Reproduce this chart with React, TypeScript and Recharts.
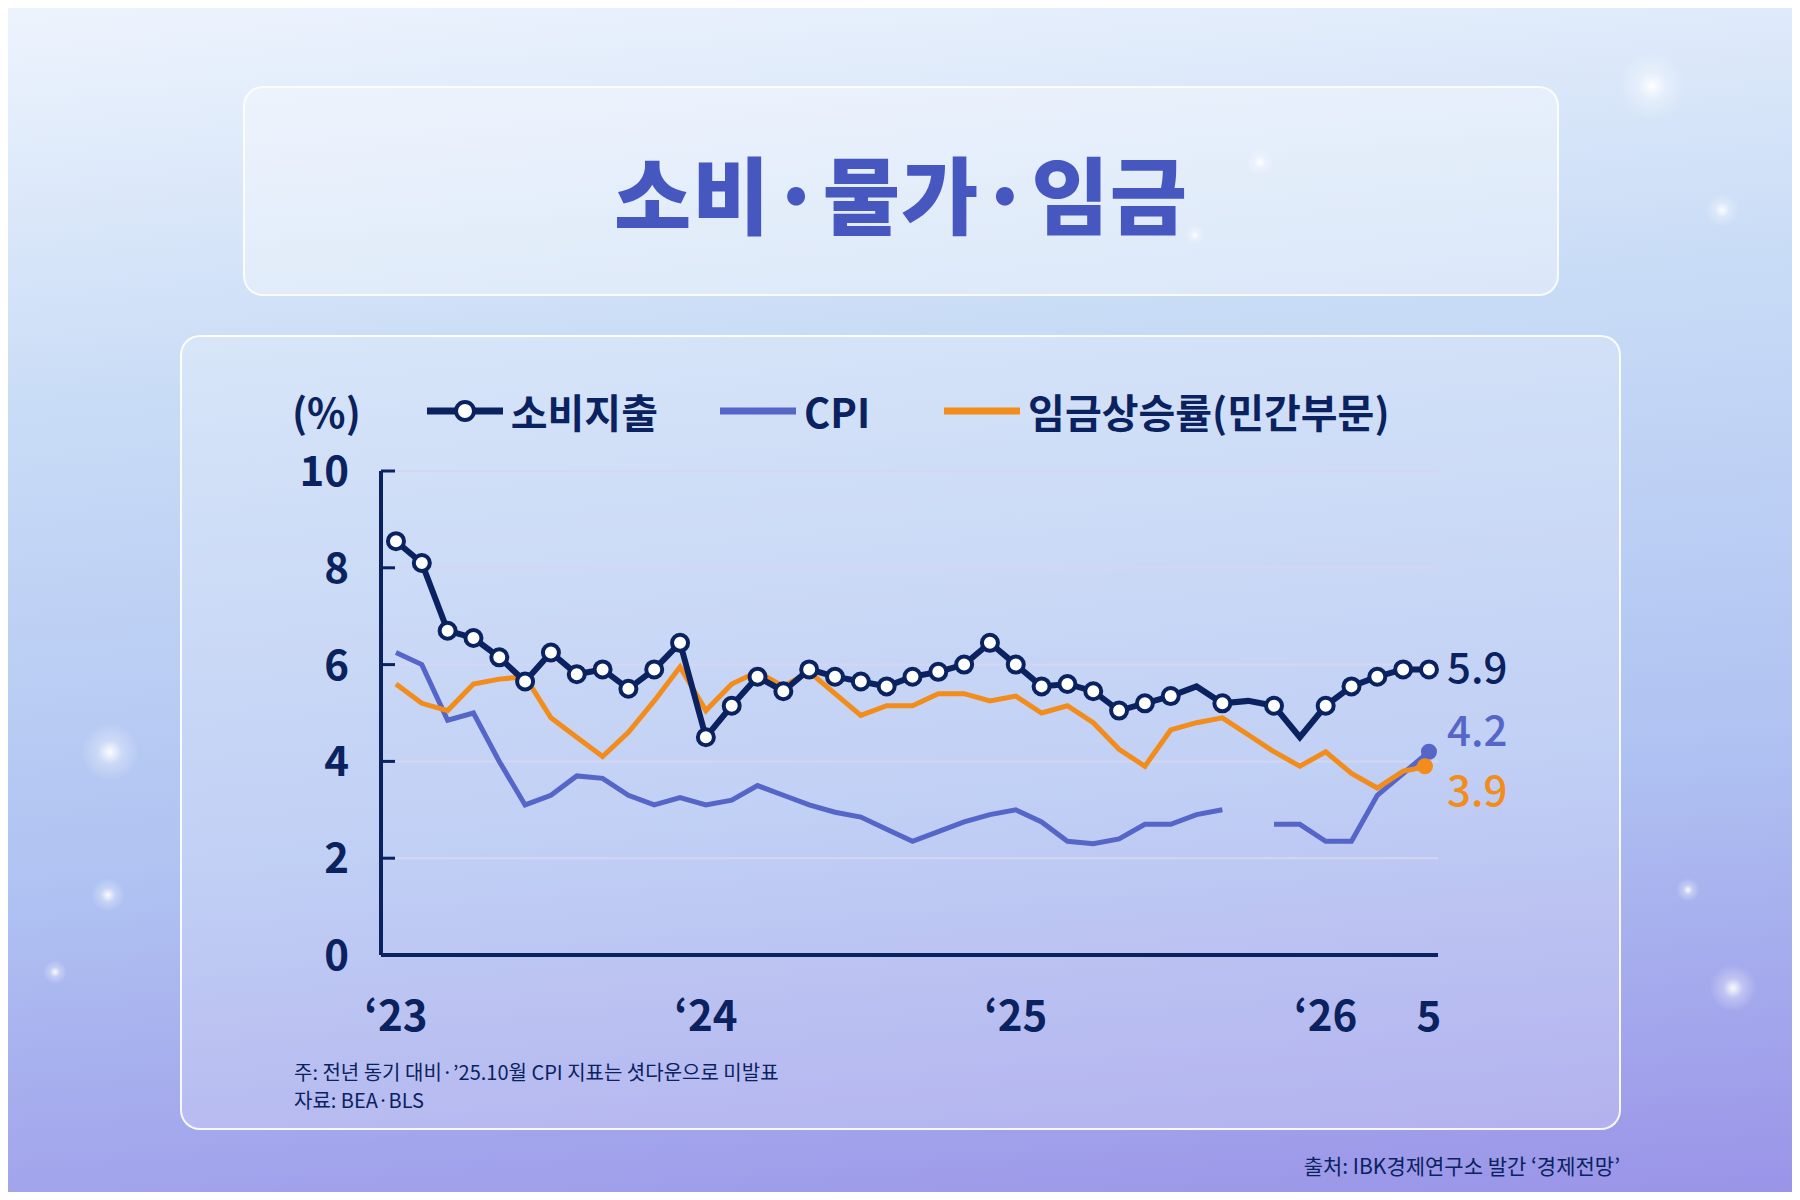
import { LineChart, Line, XAxis, YAxis, CartesianGrid, ReferenceLine } from "recharts";

// monthly, Jan 2023 .. May 2026 (41 points)
const SPENDING = [
  8.55, 8.1, 6.7, 6.55, 6.15, 5.65, 6.25, 5.8, 5.9, 5.5, 5.9, 6.45,
  4.5, 5.15, 5.75, 5.45, 5.9, 5.75, 5.65, 5.55, 5.75, 5.85, 6.0, 6.45,
  6.0, 5.55, 5.6, 5.45, 5.05, 5.2, 5.35, 5.55, 5.2, 5.25, 5.15, 4.5,
  5.15, 5.55, 5.75, 5.9, 5.9,
];
// points without a circle marker
const NO_MARK = [31, 33, 35];
const CPI: (number | null)[] = [
  6.25, 6.0, 4.85, 5.0, 4.0, 3.1, 3.3, 3.7, 3.65, 3.3, 3.1, 3.25,
  3.1, 3.2, 3.5, 3.3, 3.1, 2.95, 2.85, 2.6, 2.35, 2.55, 2.75, 2.9,
  3.0, 2.75, 2.35, 2.3, 2.4, 2.7, 2.7, 2.9, 3.0, null, 2.7, 2.7,
  2.35, 2.35, 3.3, 3.75, 4.2,
];
const WAGES = [
  5.6, 5.2, 5.05, 5.6, 5.7, 5.75, 4.9, 4.5, 4.1, 4.6, 5.25, 5.95,
  5.05, 5.6, 5.85, 5.55, 5.85, 5.4, 4.95, 5.15, 5.15, 5.4, 5.4, 5.25,
  5.35, 5.0, 5.15, 4.8, 4.25, 3.9, 4.65, 4.8, 4.9, 4.55, 4.2, 3.9,
  4.2, 3.75, 3.45, 3.8, 3.9,
];
const X_TICKS = [0, 12, 24, 36, 40];
const X_LABELS: Record<number, string> = { 0: "‘23", 12: "‘24", 24: "‘25", 36: "‘26", 40: "5" };
const Y_TICKS = [0, 2, 4, 6, 8, 10];
const END_LABELS = { spending: "5.9", cpi: "4.2", wages: "3.9" };

const NAVY = "#0b2260";
const BLUE = "#5566c8";
const ORANGE = "#f28c1b";
const FONT = "'Noto Sans CJK KR', 'Noto Sans', sans-serif";

const data = SPENDING.map((s, i) => ({ i, spending: s, cpi: CPI[i], wages: WAGES[i] }));
const LAST = SPENDING.length - 1;

const endLabel = (text: string, color: string, dy: number) => (p: any) =>
  p.index === LAST ? (
    <text x={p.x + 18} y={p.y + dy} fill={color} fontSize={42} fontFamily={FONT} fontWeight={500}>
      {text}
    </text>
  ) : null;

function Sparkle({ x, y, s }: { x: number; y: number; s: number }) {
  return (
    <div style={{ position: "absolute", left: x - s, top: y - s, width: s * 2, height: s * 2,
      background: "radial-gradient(circle, rgba(255,255,255,0.95) 0%, rgba(255,255,255,0.3) 25%, rgba(255,255,255,0) 60%)" }} />
  );
}

export default function App() {
  return (
    <div style={{ position: "relative", width: 1800, height: 1200, margin: -8, overflow: "hidden", fontFamily: FONT,
      background: "linear-gradient(175deg, #eef4fd 0%, #c9dcf6 30%, #b0c3f2 65%, #9a93e8 100%)" }}>
      <Sparkle x={1652} y={86} s={40} />
      <Sparkle x={1722} y={210} s={20} />
      <Sparkle x={1260} y={162} s={16} />
      <Sparkle x={1195} y={235} s={12} />
      <Sparkle x={110} y={752} s={34} />
      <Sparkle x={108} y={895} s={20} />
      <Sparkle x={55} y={972} s={14} />
      <Sparkle x={1688} y={890} s={14} />
      <Sparkle x={1733} y={988} s={28} />

      <div style={{ position: "absolute", left: 243, top: 86, width: 1316, height: 210, borderRadius: 20,
        background: "rgba(255,255,255,0.35)", border: "2px solid rgba(255,255,255,0.8)", boxSizing: "border-box",
        display: "flex", alignItems: "center", justifyContent: "center" }}>
        <span style={{ fontSize: 84, fontWeight: 900, color: "#4657c0", letterSpacing: 1 }}>소비·물가·임금</span>
      </div>

      <div style={{ position: "absolute", left: 180, top: 335, width: 1441, height: 795, borderRadius: 20,
        background: "rgba(255,255,255,0.22)", border: "2px solid rgba(255,255,255,0.9)", boxSizing: "border-box" }} />

      {/* legend */}
      <div style={{ position: "absolute", left: 292, top: 382, display: "flex", alignItems: "center",
        fontSize: 40, fontWeight: 700, color: NAVY }}>
        <span style={{ marginRight: 64 }}>(%)</span>
        <svg width={80} height={30} style={{ marginRight: 6 }}>
          <line x1={2} y1={15} x2={78} y2={15} stroke={NAVY} strokeWidth={7} />
          <circle cx={40} cy={15} r={9} fill="#fff" stroke={NAVY} strokeWidth={4} />
        </svg>
        <span style={{ marginRight: 60 }}>소비지출</span>
        <svg width={80} height={30} style={{ marginRight: 6 }}>
          <line x1={2} y1={15} x2={78} y2={15} stroke={BLUE} strokeWidth={7} />
        </svg>
        <span style={{ marginRight: 72 }}>CPI</span>
        <svg width={80} height={30} style={{ marginRight: 6 }}>
          <line x1={2} y1={15} x2={78} y2={15} stroke={ORANGE} strokeWidth={7} />
        </svg>
        <span>임금상승률(민간부문)</span>
      </div>

      <div style={{ position: "absolute", left: 0, top: 0 }}>
        <LineChart width={1800} height={1200} data={data} margin={{ top: 471, right: 362, bottom: 165, left: 271 }}>
          <CartesianGrid horizontal vertical={false} stroke="#d4d6f4" strokeWidth={2} />
          <XAxis dataKey="i" type="number" domain={[-0.58, 40.35]} ticks={X_TICKS} tickFormatter={(v) => X_LABELS[v]}
            axisLine={{ stroke: NAVY, strokeWidth: 4 }} tickLine={false} height={80}
            tick={{ fill: NAVY, fontSize: 42, fontWeight: 700, fontFamily: FONT, dy: 38 }} />
          <YAxis domain={[0, 10]} ticks={Y_TICKS} width={110}
            axisLine={{ stroke: NAVY, strokeWidth: 4 }} tickLine={{ stroke: NAVY, strokeWidth: 3 }} tickSize={-14}
            tick={{ fill: NAVY, fontSize: 42, fontWeight: 700, fontFamily: FONT, dx: -44 }} />
          <ReferenceLine y={0} stroke={NAVY} strokeWidth={4} />
          <Line dataKey="cpi" stroke={BLUE} strokeWidth={5} isAnimationActive={false} connectNulls={false}
            dot={(p: any) => p.index === LAST
              ? <circle key={p.index} cx={p.cx} cy={p.cy} r={8} fill={BLUE} /> : <g key={p.index} />}
            label={endLabel(END_LABELS.cpi, BLUE, -6)} />
          <Line dataKey="wages" stroke={ORANGE} strokeWidth={5} isAnimationActive={false}
            dot={(p: any) => p.index === LAST
              ? <circle key={p.index} cx={p.cx - 4} cy={p.cy} r={8} fill={ORANGE} /> : <g key={p.index} />}
            label={endLabel(END_LABELS.wages, ORANGE, 40)} />
          <Line dataKey="spending" stroke={NAVY} strokeWidth={6} strokeLinejoin="miter" isAnimationActive={false}
            dot={(p: any) => NO_MARK.includes(p.index)
              ? <g key={p.index} />
              : <circle key={p.index} cx={p.cx} cy={p.cy} r={8} fill="#fff" stroke={NAVY} strokeWidth={4} />}
            label={endLabel(END_LABELS.spending, NAVY, 14)} />
        </LineChart>
      </div>

      <div style={{ position: "absolute", left: 294, top: 1058, fontSize: 20, color: NAVY, lineHeight: 1.4 }}>
        <div>주: 전년 동기 대비·’25.10월 CPI 지표는 셧다운으로 미발표</div>
        <div>자료: BEA·BLS</div>
      </div>
      <div style={{ position: "absolute", right: 180, top: 1150, fontSize: 21, color: NAVY }}>
        출처: IBK경제연구소 발간 ‘경제전망’
      </div>
    </div>
  );
}
